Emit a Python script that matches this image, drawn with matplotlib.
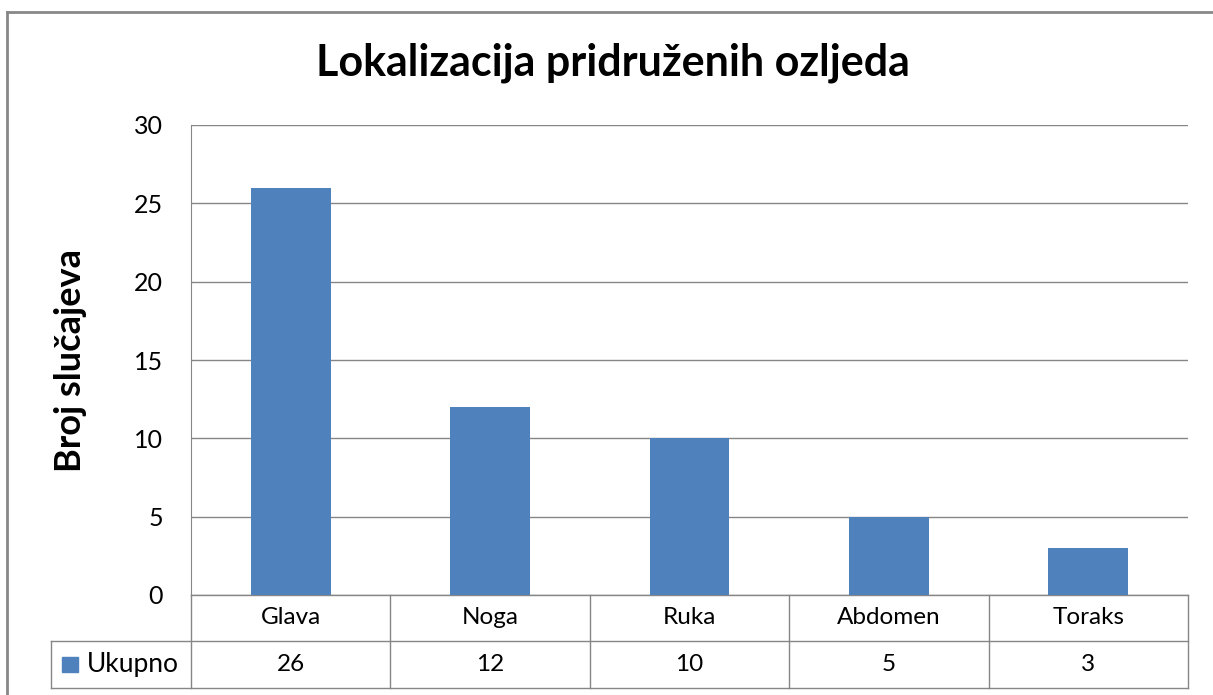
import matplotlib.pyplot as plt
from matplotlib.lines import Line2D
from matplotlib.patches import Rectangle
import matplotlib.transforms as mtransforms

# data
categories = ["Glava", "Noga", "Ruka", "Abdomen", "Toraks"]
values = [26, 12, 10, 5, 3]
series_name = "Ukupno"
y_ticks = [0, 5, 10, 15, 20, 25, 30]

plt.rcParams['font.family'] = ['Lato', 'DejaVu Sans']

W, H = 1213, 695
fig = plt.figure(figsize=(W / 100, H / 100), dpi=100)

# plot area in pixels (left, top, right, bottom)
L, T, R, B = 191, 125, 1188, 595
ax = fig.add_axes([L / W, 1 - B / H, (R - L) / W, (B - T) / H])

bar_color = "#4F81BD"
grid_color = "#868686"
fs = 17.5
xs = range(len(categories))
ax.bar(xs, values, width=0.4, color=bar_color, zorder=3)
ax.set_xlim(-0.5, len(categories) - 0.5)
ax.set_ylim(0, 30)
ax.set_yticks(y_ticks)
ax.set_yticklabels([str(t) for t in y_ticks], fontsize=18)
ax.tick_params(axis="y", length=0, pad=20)
ax.set_xticks([])
ax.grid(axis="y", color=grid_color, linewidth=1, zorder=0)
for s in ["top", "right", "bottom"]:
    ax.spines[s].set_visible(False)
ax.spines["left"].set_color(grid_color)

ax.set_ylabel("Broj slučajeva", fontsize=26, fontweight="bold", labelpad=34)

fig.text(0.505, 1 - 63 / H, "Lokalizacija pridruženih ozljeda", fontsize=31,
         fontweight="bold", ha="center", va="center")

# data table below the plot (x in data coords, y in axes fraction)
trans = mtransforms.blended_transform_factory(ax.transData, ax.transAxes)
ph = B - T
r1 = -(641 - B) / ph
r2 = -(688 - B) / ph
x_leg = -0.5 - (L - 51) / ((R - L) / len(categories))
n = len(categories)
kw = dict(color=grid_color, linewidth=1, transform=trans, clip_on=False)
lines = [
    ([-0.5, n - 0.5], [0, 0]),
    ([x_leg, n - 0.5], [r1, r1]),
    ([x_leg, n - 0.5], [r2, r2]),
    ([x_leg, x_leg], [r1, r2]),
]
for i in range(n + 1):
    lines.append(([i - 0.5, i - 0.5], [0, r2]))
for lx, ly in lines:
    ax.add_line(Line2D(lx, ly, **kw))

for i, (c, v) in enumerate(zip(categories, values)):
    ax.text(i, r1 / 2, c, transform=trans, ha="center", va="center", fontsize=fs)
    ax.text(i, (r1 + r2) / 2, str(v), transform=trans, ha="center", va="center", fontsize=fs)

# legend key in the table
ax.add_patch(Rectangle((x_leg + 0.055, (r1 + r2) / 2 - 0.017), 0.08, 0.034,
                       transform=trans, color=bar_color, clip_on=False))
ax.text(x_leg + 0.18, (r1 + r2) / 2, series_name, transform=trans,
        ha="left", va="center", fontsize=fs + 1.5)

# chart outer border (cropped at right/bottom)
fig.add_artist(Line2D([7 / W, 7 / W], [0, 1 - 12 / H], color="#888888", linewidth=2,
                      transform=fig.transFigure))
fig.add_artist(Line2D([7 / W, 1], [1 - 12 / H, 1 - 12 / H], color="#888888", linewidth=2,
                      transform=fig.transFigure))

fig.savefig("out.png", dpi=100)
